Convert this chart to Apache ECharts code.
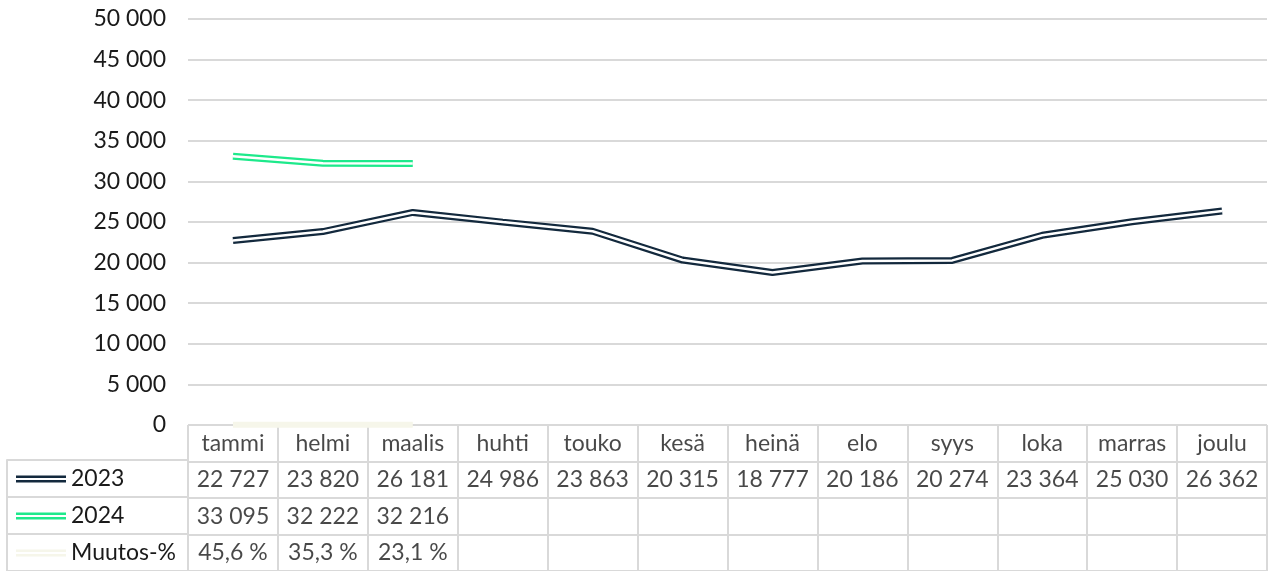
<!DOCTYPE html>
<html><head><meta charset="utf-8">
<script src="https://cdn.jsdelivr.net/npm/echarts@6/dist/echarts.min.js"></script>
<style>html,body{margin:0;padding:0;background:#fff}#c{width:1276px;height:571px}</style>
</head><body><div id="c"></div>
<script>
const months = ['tammi','helmi','maalis','huhti','touko','kesä','heinä','elo','syys','loka','marras','joulu'];
const values2023 = [22727,23820,26181,24986,23863,20315,18777,20186,20274,23364,25030,26362];
const values2024 = [33095,32222,32216];
const changePct = [45.6,35.3,23.1];
const rowNames = ['2023','2024','Muutos-%'];
const yTicks = {min:0, max:50000, interval:5000};

const C2023 = '#13293d', C2024 = '#1de98b', CPCT = '#f6f6ea';
const FONT = 'Lato';
const FS = 23;
const fmtNum = v => String(v).replace(/\B(?=(\d{3})+(?!\d))/g, ' ');
const fmtPct = v => v.toFixed(1).replace('.', ',') + ' %';

// table cells: [col, row, text]
const cells = [];
months.forEach((m,i)=>cells.push([i,0,m]));
values2023.forEach((v,i)=>cells.push([i,1,fmtNum(v)]));
values2024.forEach((v,i)=>cells.push([i,2,fmtNum(v)]));
changePct.forEach((v,i)=>cells.push([i,3,fmtPct(v)]));

const gridColor = '#d9d9d9';
const chart = echarts.init(document.getElementById('c'));
chart.setOption({
  animation:false,
  textStyle:{fontFamily:FONT},
  grid:[
    {left:188, right:9, top:19, bottom:146},
    {left:188, right:9, top:425, bottom:0},
    {left:7, width:181, top:460, bottom:0}
  ],
  legend:{
    orient:'vertical', left:12, top:467, height:120, itemGap:13, padding:[0,0,0,4],
    itemWidth:50, itemHeight:7,
    data:[
      {name:'2023', icon:'path://M0,0H50V2.5H0Z M0,4.5H50V7H0Z'},
      {name:'2024', icon:'path://M0,0H50V2.5H0Z M0,4.5H50V7H0Z'},
      {name:'Muutos-%', icon:'path://M0,0H50V2.5H0Z M0,4.5H50V7H0Z'}
    ],
    textStyle:{fontSize:FS, color:'#1a1a1a', fontFamily:FONT, lineHeight:24},
    selectedMode:false
  },
  xAxis:[
    {gridIndex:0, type:'category', data:months, boundaryGap:true,
     axisLine:{show:false}, axisTick:{show:false}, axisLabel:{show:false}, splitLine:{show:false}},
    {gridIndex:1, type:'category', data:months, boundaryGap:true,
     axisLine:{show:false}, axisTick:{show:false}, axisLabel:{show:false},
     splitLine:{show:true, lineStyle:{color:gridColor, width:2}}},
    {gridIndex:2, type:'value', min:0, max:1, position:'top',
     axisLine:{show:false}, axisTick:{show:false}, axisLabel:{show:false}, splitLine:{show:false}}
  ],
  yAxis:[
    {gridIndex:0, type:'value', min:yTicks.min, max:yTicks.max, interval:yTicks.interval,
     axisLine:{show:false}, axisTick:{show:false},
     axisLabel:{fontSize:FS, color:'#1a1a1a', margin:22, formatter:v=>fmtNum(v), fontFamily:FONT},
     splitLine:{show:true, lineStyle:{color:gridColor, width:2}}},
    {gridIndex:1, type:'category', data:[0,1,2,3], inverse:true, boundaryGap:true,
     axisLine:{show:false}, axisTick:{show:false}, axisLabel:{show:false},
     splitLine:{show:true, lineStyle:{color:gridColor, width:2}}},
    {gridIndex:2, type:'category', data:rowNames, inverse:true, boundaryGap:true,
     axisLine:{show:true, lineStyle:{color:gridColor, width:2}}, axisTick:{show:false}, axisLabel:{show:false},
     splitLine:{show:true, lineStyle:{color:gridColor, width:2}}}
  ],
  series:[
    {name:'Muutos-%', type:'line', data:changePct, symbol:'none', z:2,
     lineStyle:{color:CPCT, width:6}, itemStyle:{color:CPCT}},
    {name:'2023', type:'line', data:values2023, symbol:'none', z:3,
     lineStyle:{color:C2023, width:7}, itemStyle:{color:C2023}},
    {name:'_2023in', type:'line', data:values2023, symbol:'none', z:4,
     lineStyle:{color:'#fff', width:2.5}},
    {name:'2024', type:'line', data:values2024, symbol:'none', z:3,
     lineStyle:{color:C2024, width:7}, itemStyle:{color:C2024}},
    {name:'_2024in', type:'line', data:values2024, symbol:'none', z:4,
     lineStyle:{color:'#fff', width:2.5}},
    {name:'table', type:'scatter', xAxisIndex:1, yAxisIndex:1, symbolSize:0, silent:true,
     data:cells.map(c=>({value:[c[0],c[1]], text:c[2]})),
     label:{show:true, position:'inside', fontSize:FS, color:'#1a1a1a', fontFamily:FONT,
            formatter:p=>p.data.text}}
  ]
});
</script></body></html>
